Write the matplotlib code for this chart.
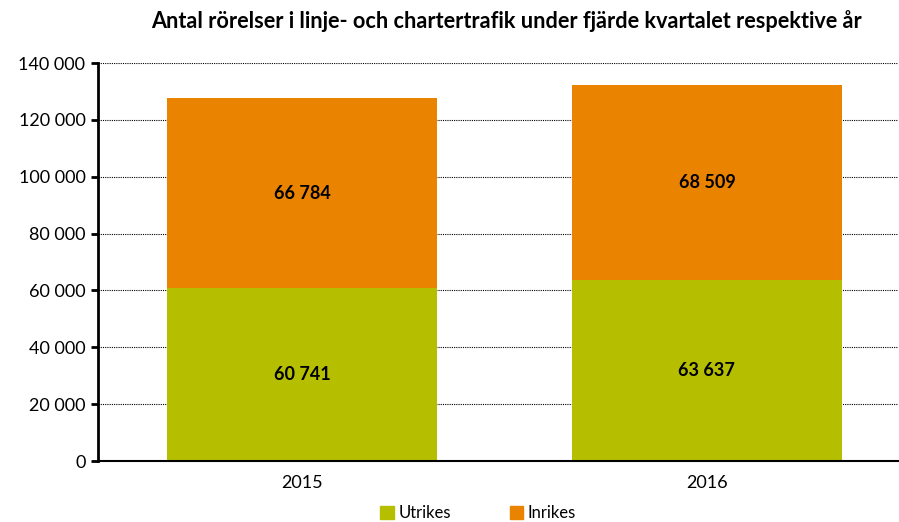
"""Antal rörelser i linje- och chartertrafik, fjärde kvartalet."""

import matplotlib.pyplot as plt
from matplotlib.patches import Patch

plt.rcParams["font.family"] = ["Lato", "DejaVu Sans"]

years = ["2015", "2016"]
utrikes = [60741, 63637]
inrikes = [66784, 68509]
yticks = [0, 20000, 40000, 60000, 80000, 100000, 120000, 140000]

GREEN = "#b5bf00"
ORANGE = "#e98300"


def fmt(v: int) -> str:
    return f"{v:,}".replace(",", " ")


def main() -> None:
    fig = plt.figure(figsize=(8.99, 5.22), dpi=100)
    ax = fig.add_axes([98 / 899, 1 - 461 / 522, 800 / 899, 398 / 522])

    x = range(len(years))
    ax.bar(x, utrikes, width=0.667, color=GREEN, zorder=2)
    ax.bar(x, inrikes, width=0.667, bottom=utrikes, color=ORANGE, zorder=2)

    for i in x:
        ax.text(i, utrikes[i] / 2, fmt(utrikes[i]), ha="center", va="center",
                fontsize=13, fontweight="bold", zorder=3)
        ax.text(i, utrikes[i] + inrikes[i] / 2, fmt(inrikes[i]), ha="center",
                va="center", fontsize=13, fontweight="bold", zorder=3)

    ax.set_xlim(-0.504, 1.472)
    ax.set_ylim(0, 140000)
    ax.set_yticks(yticks)
    ax.set_yticklabels([fmt(t) for t in yticks], fontsize=13)
    ax.set_xticks(list(x))
    ax.set_xticklabels(years, fontsize=13)
    ax.tick_params(axis="x", length=0, pad=10)
    ax.tick_params(axis="y", length=5, width=2, direction="out", pad=4)
    ax.grid(axis="y", color="black", linestyle=(0, (1, 1)), linewidth=0.8, zorder=1)

    for side in ("top", "right"):
        ax.spines[side].set_visible(False)
    ax.spines["left"].set_linewidth(2)
    ax.spines["bottom"].set_linewidth(1.5)

    fig.text(0.563, 1 - 21 / 522,
             "Antal rörelser i linje- och chartertrafik under fjärde kvartalet respektive år",
             ha="center", va="center", fontsize=15.6, fontweight="bold")

    handles = [Patch(color=GREEN, label="Utrikes"), Patch(color=ORANGE, label="Inrikes")]
    fig.legend(handles=handles, loc="center", bbox_to_anchor=(0.532, 1 - 513 / 522),
               ncol=2, frameon=False, fontsize=12, handlelength=0.8, handleheight=0.8,
               handletextpad=0.3, columnspacing=3.5)

    fig.savefig("out.png", dpi=100)
    plt.close(fig)


if __name__ == "__main__":
    main()
